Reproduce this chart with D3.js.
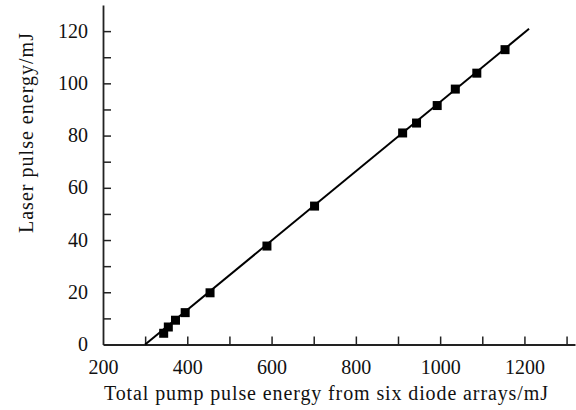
<!DOCTYPE html>
<html>
<head>
<meta charset="utf-8">
<script src="https://cdn.jsdelivr.net/npm/d3@7"></script>
<style>
  body { margin: 0; background: #fff; }
  svg text { font-family: "Liberation Serif", "Times New Roman", serif; fill: #111; }
</style>
</head>
<body>
<svg id="chart"></svg>
<script>
// measured points (pump energy mJ, laser energy mJ)
const pumpEnergy = [344, 355, 372, 395, 454, 589, 702, 911, 944, 993, 1036, 1087, 1154];
const laserEnergy = [4.3, 6.7, 9.3, 12.2, 19.8, 37.7, 53.0, 81.0, 84.8, 91.5, 97.8, 103.9, 112.9];

// fitted line end points
const fitX = [300, 1211];
const fitY = [0, 120.9];

const xTicks = [200, 300, 400, 500, 600, 700, 800, 900, 1000, 1100, 1200, 1300];
const yTicks = [0, 10, 20, 30, 40, 50, 60, 70, 80, 90, 100, 110, 120];

class LinePlot {

  constructor(_config) {
    this.config = {
      parentElement: _config.parentElement,
      containerWidth: _config.containerWidth || 576,
      containerHeight: _config.containerHeight || 410,
      margin: _config.margin || {top: 5, right: 1, bottom: 65.5, left: 103}
    }
    this.initVis();
  }

  initVis() {
    let vis = this;
    let m = vis.config.margin;
    vis.width = vis.config.containerWidth - m.left - m.right;
    vis.height = vis.config.containerHeight - m.top - m.bottom;

    vis.svg = d3.select(vis.config.parentElement)
        .attr('width', vis.config.containerWidth)
        .attr('height', vis.config.containerHeight);

    vis.chart = vis.svg.append('g')
        .attr('transform', `translate(${m.left},${m.top})`);

    vis.xScale = d3.scaleLinear().domain([200, 1320]).range([0, vis.width]);
    vis.yScale = d3.scaleLinear().domain([0, 130]).range([vis.height, 0]);

    // ticks point inward, labels only every second tick
    vis.xAxis = d3.axisBottom(vis.xScale)
        .tickValues(xTicks)
        .tickSizeInner(-8)
        .tickSizeOuter(0)
        .tickPadding(15)
        .tickFormat(d => d % 200 === 0 ? d : '');

    vis.yAxis = d3.axisLeft(vis.yScale)
        .tickValues(yTicks)
        .tickSizeInner(-8)
        .tickSizeOuter(0)
        .tickPadding(15)
        .tickFormat(d => d % 20 === 0 ? d : '');

    vis.render();
  }

  render() {
    let vis = this;

    let xg = vis.chart.append('g')
        .attr('transform', `translate(0,${vis.height})`)
        .call(vis.xAxis);
    let yg = vis.chart.append('g').call(vis.yAxis);

    [xg, yg].forEach(g => {
      g.select('.domain').attr('stroke', '#222').attr('stroke-width', 1.8);
      g.selectAll('.tick line').attr('stroke', '#222').attr('stroke-width', 1.5);
      g.selectAll('.tick text')
          .style('font-family', '"Liberation Serif", serif')
          .style('font-size', '20px')
          .attr('fill', '#111');
    });
    // no tick marks at the origin corner
    xg.selectAll('.tick').filter(d => d === 200).select('line').remove();
    yg.selectAll('.tick').filter(d => d === 0).select('line').remove();
    yg.selectAll('.tick text').attr('dy', '0.3em');

    // fitted line
    let line = d3.line()
        .x(d => vis.xScale(d[0]))
        .y(d => vis.yScale(d[1]));
    vis.chart.append('path')
        .datum(fitX.map((x, i) => [x, fitY[i]]))
        .attr('d', line)
        .attr('fill', 'none')
        .attr('stroke', '#000')
        .attr('stroke-width', 2);

    // square markers
    let s = 9;
    vis.chart.selectAll('.pt')
        .data(pumpEnergy.map((x, i) => [x, laserEnergy[i]]))
      .enter().append('rect')
        .attr('class', 'pt')
        .attr('x', d => vis.xScale(d[0]) - s / 2)
        .attr('y', d => vis.yScale(d[1]) - s / 2)
        .attr('width', s)
        .attr('height', s)
        .attr('fill', '#000');

    // axis titles
    vis.svg.append('text')
        .attr('x', 104)
        .attr('y', 400)
        .attr('textLength', 444)
        .attr('lengthAdjust', 'spacing')
        .style('font-size', '20px')
        .text('Total pump pulse energy from six diode arrays/mJ');

    vis.svg.append('text')
        .attr('transform', 'translate(33,233) rotate(-90)')
        .attr('textLength', 200)
        .attr('lengthAdjust', 'spacing')
        .style('font-size', '20px')
        .text('Laser pulse energy/mJ');
  }
}

new LinePlot({parentElement: '#chart'});
</script>
</body>
</html>
